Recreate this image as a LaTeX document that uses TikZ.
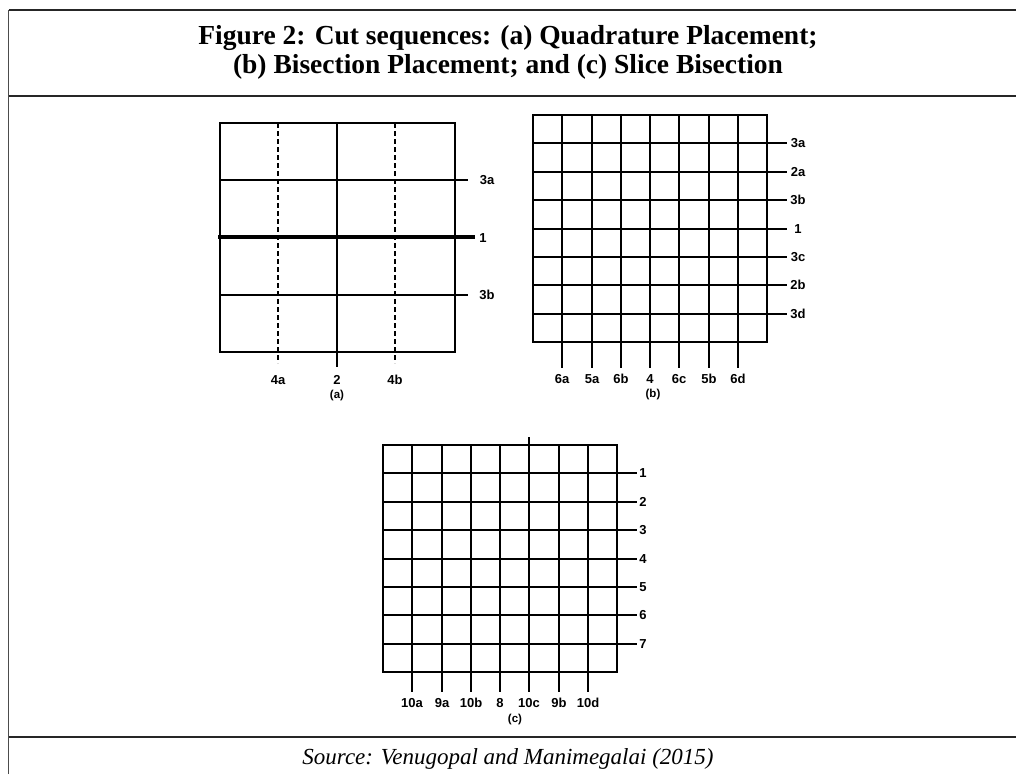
\documentclass[tikz,border=0pt]{standalone}
\usepackage{fontspec}
\setmainfont{Liberation Serif}
\newfontfamily\labfont{Liberation Sans}
\begin{document}
\begin{tikzpicture}[x=1pt,y=-1pt,
  rule/.style={line width=1.4pt, draw=black!85},
  box/.style={line width=2.3pt},
  cut/.style={line width=2pt},
  lbl/.style={font=\labfont\bfseries\fontsize{13}{15}\selectfont, inner sep=0pt},
  capt/.style={font=\labfont\bfseries\fontsize{11.5}{13}\selectfont, inner sep=0pt},
  ttl/.style={font=\bfseries\fontsize{27.5}{29}\selectfont, anchor=base, inner sep=0pt},
 ]
\useasboundingbox (0,0) rectangle (1016,774);
% frame
\draw[rule, draw=black!70, line width=1.6pt] (8.5,774) -- (8.5,10);
\draw[rule] (8.5,10) -- (1016,10);
\draw[rule] (8.5,96) -- (1016,96);
\draw[rule, line width=1.6pt] (8.5,737) -- (1016,737);
\node[ttl] (title1) at (508,44) {Figure 2: Cut sequences: (a) Quadrature Placement;};
\node[ttl] (title2) at (508,73) {(b) Bisection Placement; and (c) Slice Bisection};
\node[font=\itshape\fontsize{23}{26}\selectfont, anchor=base, inner sep=0pt] (src) at (508,764)
  {Source: Venugopal and Manimegalai (2015)};

% ---------- panel (a)
\draw[box] (220,123) rectangle (455,352);
\draw[cut] (220,180) -- (468,180);
\draw[cut] (220,295) -- (468,295);
\draw[line width=4.2pt] (218,237) -- (475,237);
\draw[line width=2.7pt] (337,122) -- (337,367);
\draw[cut, dash pattern=on 5pt off 3pt] (278,123) -- (278,363);
\draw[cut, dash pattern=on 5pt off 3pt] (395,123) -- (395,363);
\node[lbl] (a3a) at (487,180) {3a};
\node[lbl] (a1) at (483,238) {1};
\node[lbl] (a3b) at (487,295) {3b};
\node[lbl] (a4a) at (278,380) {4a};
\node[lbl] (a2) at (337,380) {2};
\node[lbl] (a4b) at (395,380) {4b};
\node[capt] (capa) at (337,396) {(a)};

% ---------- panel (b)
\draw[box] (533,115) rectangle (767,342);
\foreach \k/\t in {1/3a,2/2a,3/3b,4/1,5/3c,6/2b,7/3d}{
  \pgfmathsetmacro{\yy}{round(115+\k*28.375)}
  \draw[cut] (533,\yy) -- (787,\yy);
  \node[lbl] (b\k) at (798,\yy) {\t};
}
\foreach \k/\t in {1/6a,2/5a,3/6b,4/4,5/6c,6/5b,7/6d}{
  \pgfmathsetmacro{\xx}{round(533+\k*29.25)}
  \draw[cut] (\xx,115) -- (\xx,368);
  \node[lbl] (bv\k) at (\xx,379) {\t};
}
\node[capt] (capb) at (653,395) {(b)};

% ---------- panel (c)
\draw[box] (383,445) rectangle (617,672);
\foreach \k in {1,...,7}{
  \pgfmathsetmacro{\yy}{round(445+\k*28.375)}
  \draw[cut] (383,\yy) -- (637,\yy);
  \node[lbl] (c\k) at (643,\yy) {\k};
}
\foreach \k/\t in {1/10a,2/9a,3/10b,4/8,5/10c,6/9b,7/10d}{
  \pgfmathsetmacro{\xx}{round(383+\k*29.25)}
  \draw[cut] (\xx,445) -- (\xx,692);
  \node[lbl] (cv\k) at (\xx,703) {\t};
}
\draw[cut] (529,437) -- (529,445);
\node[capt] (capc) at (515,720) {(c)};
\end{tikzpicture}
\end{document}
